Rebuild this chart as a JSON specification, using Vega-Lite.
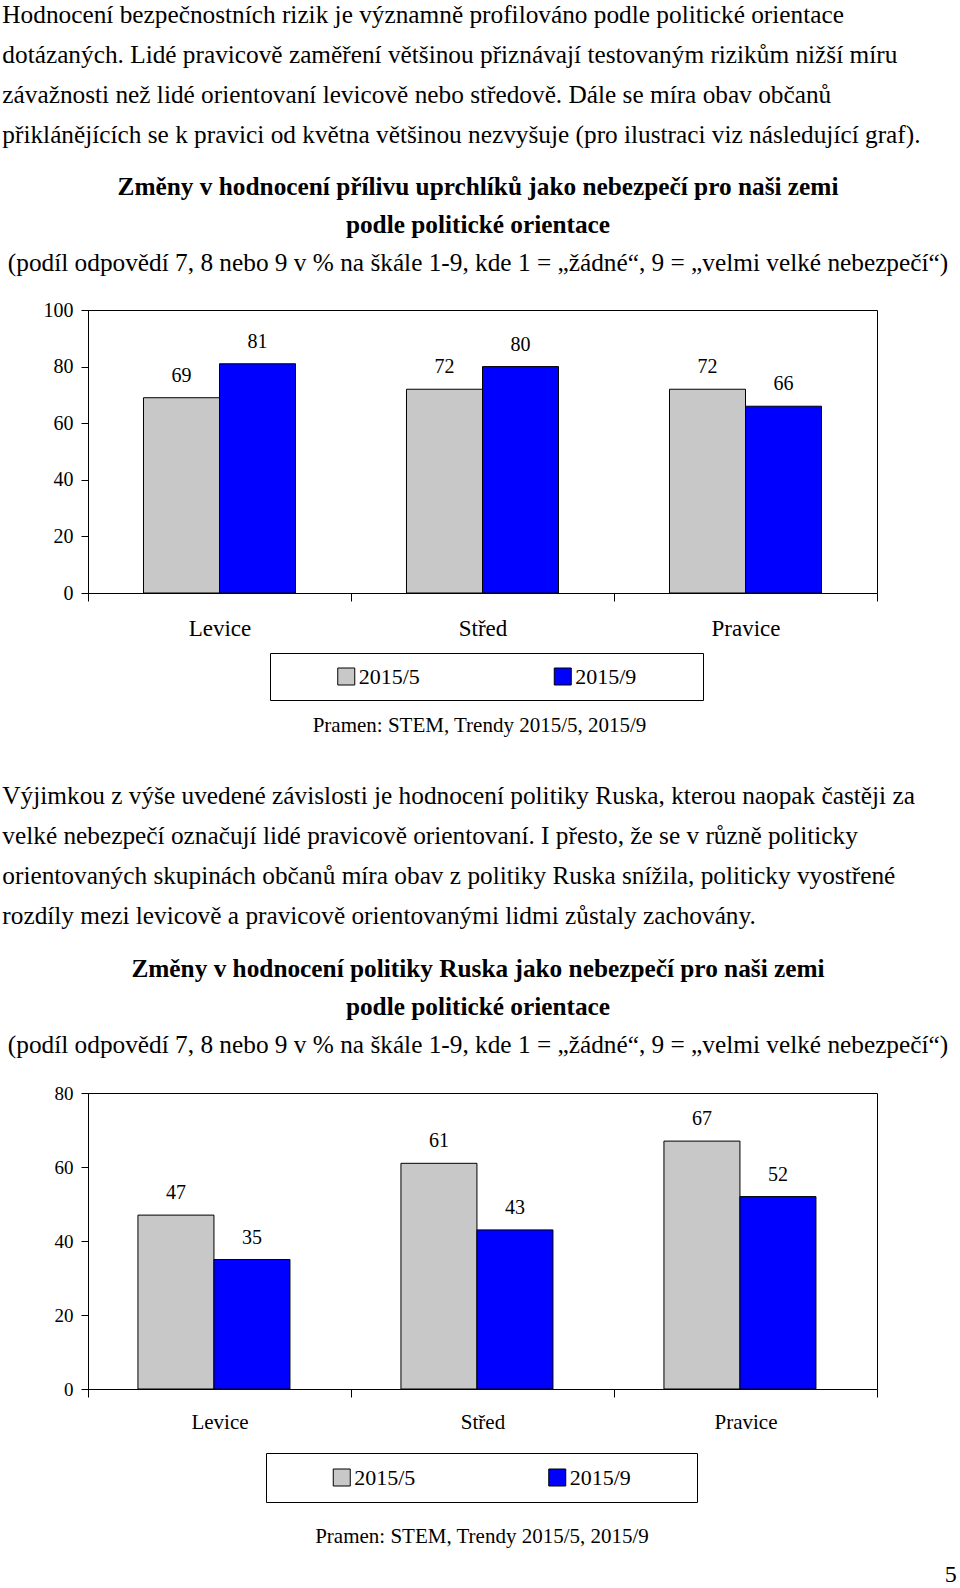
{
  "$schema": "https://vega.github.io/schema/vega-lite/v6.json",
  "background": "white",
  "padding": {"left": 2, "top": 2, "right": 0, "bottom": 0},
  "config": {
    "font": "Liberation Serif",
    "view": {"stroke": "black", "strokeWidth": 1},
    "title": {"font": "Liberation Serif", "color": "black", "subtitleFont": "Liberation Serif", "subtitleColor": "black"},
    "style": {
      "group-title": {"font": "Liberation Serif", "fill": "black"},
      "group-subtitle": {"font": "Liberation Serif", "fill": "black"}
    },
    "axis": {"labelFont": "Liberation Serif", "titleFont": "Liberation Serif", "labelColor": "black", "titleColor": "black", "domainColor": "black", "tickColor": "black", "grid": false}
  },
  "title": {"text": "5", "orient": "bottom", "anchor": "end", "font": "Liberation Serif", "fontSize": 24, "fontWeight": "normal", "offset": 16, "dx": 8, "color": "black"},
  "spacing": 47,
  "center": false,
  "vconcat": [
    {
      "title": {
        "text": [
          "Hodnocení bezpečnostních rizik je významně profilováno podle politické orientace",
          "dotázaných. Lidé pravicově zaměření většinou přiznávají testovaným rizikům nižší míru",
          "závažnosti než lidé orientovaní levicově nebo středově. Dále se míra obav občanů",
          "přiklánějících se k pravici od května většinou nezvyšuje (pro ilustraci viz následující graf)."
        ],
        "anchor": "start", "font": "Liberation Serif", "color": "black", "fontSize": 25.3, "fontWeight": "normal", "lineHeight": 40, "offset": 27, "dx": -5
      },
      "center": false,
      "spacing": 11,
      "resolve": {"scale": {"x": "independent", "y": "independent", "xOffset": "independent"}},
      "vconcat": [
        {
          "width": 789,
          "height": 283,
          "title": {
            "text": ["Změny v hodnocení přílivu uprchlíků jako nebezpečí pro naši zemi", "podle politické orientace"],
            "subtitle": "(podíl odpovědí 7, 8 nebo 9 v % na škále 1-9, kde 1 = „žádné“, 9 = „velmi velké nebezpečí“)",
            "font": "Liberation Serif", "fontSize": 25.3, "fontWeight": "bold", "lineHeight": 38,
            "subtitleFont": "Liberation Serif", "subtitleFontSize": 25.3, "subtitleFontWeight": "normal", "subtitlePadding": 12,
            "anchor": "middle", "frame": "group", "offset": 24, "dx": -4.5
          },
          "data": {"values": [
            {"orientace": "Levice", "obdobi": "2015/5", "hodnota": 69},
            {"orientace": "Levice", "obdobi": "2015/9", "hodnota": 81},
            {"orientace": "Střed", "obdobi": "2015/5", "hodnota": 72},
            {"orientace": "Střed", "obdobi": "2015/9", "hodnota": 80},
            {"orientace": "Pravice", "obdobi": "2015/5", "hodnota": 72},
            {"orientace": "Pravice", "obdobi": "2015/9", "hodnota": 66}
          ]},
          "encoding": {
            "x": {"field": "orientace", "type": "nominal", "sort": ["Levice", "Střed", "Pravice"],
                  "scale": {"paddingInner": 0, "paddingOuter": 0},
                  "axis": {"title": null, "labelAngle": 0, "labelFontSize": 23, "tickBand": "extent", "tickSize": 8, "labelPadding": 16}},
            "xOffset": {"field": "obdobi", "type": "nominal", "scale": {"paddingInner": 0, "paddingOuter": 0.73}},
            "y": {"field": "hodnota", "type": "quantitative", "scale": {"domain": [0, 100], "nice": false},
                  "axis": {"title": null, "values": [0, 20, 40, 60, 80, 100], "labelFontSize": 20, "tickSize": 7, "labelPadding": 8}}
          },
          "layer": [
            {"mark": {"type": "bar", "stroke": "black", "strokeWidth": 1},
             "encoding": {"color": {"field": "obdobi", "type": "nominal", "scale": {"domain": ["2015/5", "2015/9"], "range": ["#c8c8c8", "#0000ff"]}, "legend": null}}},
            {"mark": {"type": "text", "baseline": "middle", "dy": -22, "fontSize": 20, "font": "Liberation Serif", "color": "black"},
             "encoding": {"text": {"field": "hodnota", "type": "quantitative"}}}
          ]
        },
        {
          "spacing": 0,
          "hconcat": [
            {
              "width": 181, "height": 47,
              "view": {"stroke": null, "fill": "white"},
              "data": {"values": [{}]},
              "mark": {"type": "point", "opacity": 0},
              "encoding": {}
            },
            {
              "width": 433,
              "height": 47,
              "data": {"values": [{"obdobi": "2015/5"}, {"obdobi": "2015/9"}]},
              "encoding": {
                "x": {"field": "obdobi", "type": "nominal", "scale": {"type": "point", "padding": 0.5},
                      "axis": {"labels": false, "ticks": false, "domain": false, "title": "Pramen: STEM, Trendy 2015/5, 2015/9", "titleFontSize": 21, "titleFontWeight": "normal", "titlePadding": 14, "titleX": 209}}
              },
              "layer": [
                {"mark": {"type": "point", "shape": "square", "filled": true, "opacity": 1, "size": 289, "stroke": "black", "strokeWidth": 1, "xOffset": -32},
                 "encoding": {"color": {"field": "obdobi", "type": "nominal", "scale": {"domain": ["2015/5", "2015/9"], "range": ["#c8c8c8", "#0000ff"]}, "legend": null}}},
                {"mark": {"type": "text", "align": "left", "baseline": "middle", "dx": -19.5, "fontSize": 22, "color": "black"},
                 "encoding": {"text": {"field": "obdobi", "type": "nominal"}}}
              ]
            }
          ]
        }
      ]
    },
    {
      "title": {
        "text": [
          "Výjimkou z výše uvedené závislosti je hodnocení politiky Ruska, kterou naopak častěji za",
          "velké nebezpečí označují lidé pravicově orientovaní. I přesto, že se v různě politicky",
          "orientovaných skupinách občanů míra obav z politiky Ruska snížila, politicky vyostřené",
          "rozdíly mezi levicově a pravicově orientovanými lidmi zůstaly zachovány."
        ],
        "anchor": "start", "font": "Liberation Serif", "color": "black", "fontSize": 25.3, "fontWeight": "normal", "lineHeight": 40, "offset": 28, "dx": -5
      },
      "center": false,
      "spacing": 19,
      "resolve": {"scale": {"x": "independent", "y": "independent", "xOffset": "independent"}},
      "vconcat": [
        {
          "width": 789,
          "height": 296,
          "title": {
            "text": ["Změny v hodnocení politiky Ruska jako nebezpečí pro naši zemi", "podle politické orientace"],
            "subtitle": "(podíl odpovědí 7, 8 nebo 9 v % na škále 1-9, kde 1 = „žádné“, 9 = „velmi velké nebezpečí“)",
            "font": "Liberation Serif", "fontSize": 25.3, "fontWeight": "bold", "lineHeight": 38,
            "subtitleFont": "Liberation Serif", "subtitleFontSize": 25.3, "subtitleFontWeight": "normal", "subtitlePadding": 12,
            "anchor": "middle", "frame": "group", "offset": 26, "dx": -4.5
          },
          "data": {"values": [
            {"orientace": "Levice", "obdobi": "2015/5", "hodnota": 47},
            {"orientace": "Levice", "obdobi": "2015/9", "hodnota": 35},
            {"orientace": "Střed", "obdobi": "2015/5", "hodnota": 61},
            {"orientace": "Střed", "obdobi": "2015/9", "hodnota": 43},
            {"orientace": "Pravice", "obdobi": "2015/5", "hodnota": 67},
            {"orientace": "Pravice", "obdobi": "2015/9", "hodnota": 52}
          ]},
          "encoding": {
            "x": {"field": "orientace", "type": "nominal", "sort": ["Levice", "Střed", "Pravice"],
                  "scale": {"paddingInner": 0, "paddingOuter": 0},
                  "axis": {"title": null, "labelAngle": 0, "labelFontSize": 21, "tickBand": "extent", "tickSize": 8, "labelPadding": 14}},
            "xOffset": {"field": "obdobi", "type": "nominal", "scale": {"paddingInner": 0, "paddingOuter": 0.73, "align": 0.45}},
            "y": {"field": "hodnota", "type": "quantitative", "scale": {"domain": [0, 80], "nice": false},
                  "axis": {"title": null, "values": [0, 20, 40, 60, 80], "labelFontSize": 19, "tickSize": 7, "labelPadding": 8}}
          },
          "layer": [
            {"mark": {"type": "bar", "stroke": "black", "strokeWidth": 1},
             "encoding": {"color": {"field": "obdobi", "type": "nominal", "scale": {"domain": ["2015/5", "2015/9"], "range": ["#c8c8c8", "#0000ff"]}, "legend": null}}},
            {"mark": {"type": "text", "baseline": "middle", "dy": -22, "fontSize": 20, "font": "Liberation Serif", "color": "black"},
             "encoding": {"text": {"field": "hodnota", "type": "quantitative"}}}
          ]
        },
        {
          "spacing": 0,
          "hconcat": [
            {
              "width": 177, "height": 49,
              "view": {"stroke": null, "fill": "white"},
              "data": {"values": [{}]},
              "mark": {"type": "point", "opacity": 0},
              "encoding": {}
            },
            {
              "width": 431,
              "height": 49,
              "data": {"values": [{"obdobi": "2015/5"}, {"obdobi": "2015/9"}]},
              "encoding": {
                "x": {"field": "obdobi", "type": "nominal", "scale": {"type": "point", "padding": 0.5},
                      "axis": {"labels": false, "ticks": false, "domain": false, "title": "Pramen: STEM, Trendy 2015/5, 2015/9", "titleFontSize": 21, "titleFontWeight": "normal", "titlePadding": 23}}
              },
              "layer": [
                {"mark": {"type": "point", "shape": "square", "filled": true, "opacity": 1, "size": 289, "stroke": "black", "strokeWidth": 1, "xOffset": -32},
                 "encoding": {"color": {"field": "obdobi", "type": "nominal", "scale": {"domain": ["2015/5", "2015/9"], "range": ["#c8c8c8", "#0000ff"]}, "legend": null}}},
                {"mark": {"type": "text", "align": "left", "baseline": "middle", "dx": -19.5, "fontSize": 22, "color": "black"},
                 "encoding": {"text": {"field": "obdobi", "type": "nominal"}}}
              ]
            }
          ]
        }
      ]
    }
  ]
}
